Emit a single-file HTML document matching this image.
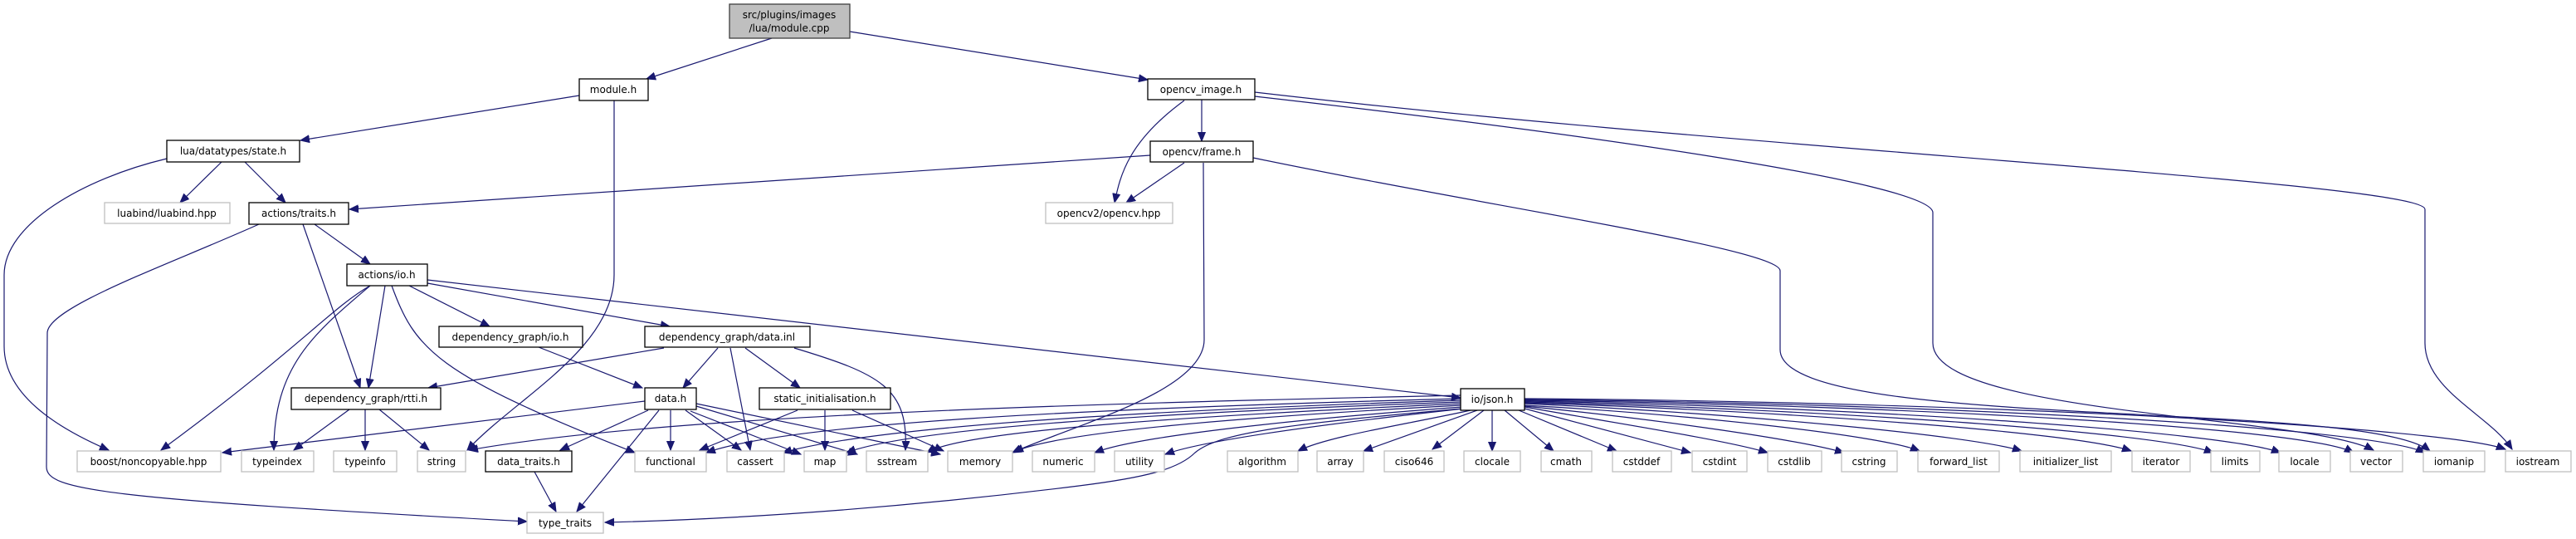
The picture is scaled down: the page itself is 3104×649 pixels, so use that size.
<!DOCTYPE html>
<html><head><meta charset="utf-8"><style>
html,body{margin:0;padding:0;background:#fff;}
svg{display:block;}
text{font-family:"DejaVu Sans","Liberation Sans",sans-serif;font-size:12px;fill:#000;text-anchor:middle;}
.e{fill:none;stroke:#191970;stroke-width:1.2;}
.n{fill:#fff;stroke:#000;stroke-width:1.3;}
.g{fill:#fff;stroke:#bfbfbf;stroke-width:1.3;}
</style></head><body>
<svg width="3104" height="649" viewBox="0 0 3104 649" xmlns="http://www.w3.org/2000/svg">
<defs><marker id="a" markerWidth="12" markerHeight="10" refX="11" refY="5" orient="auto" markerUnits="userSpaceOnUse"><path d="M0,0.5 L11,5 L0,9.5z" fill="#191970" stroke="#191970"/></marker></defs>
<g marker-end="url(#a)">
<!-- root -->
<path class="e" d="M930,46 L779,95"/>
<path class="e" d="M1024,38 L1383,96"/>
<!-- module.h -->
<path class="e" d="M698,115 L362,169"/>
<path class="e" d="M740,121 L740,331 C740,420 620,480 563,542"/>
<!-- opencv_image.h -->
<path class="e" d="M1448,120 L1448,170"/>
<path class="e" d="M1427,121 C1360,170 1350,210 1343,244"/>
<path class="e" d="M1512,116 C1900,160 2329,220 2329,256 L2329,413 C2329,500 2780,500 2860,542"/>
<path class="e" d="M1512,111 C2100,180 2922,220 2922,252 L2922,413 C2922,470 3000,500 3027,541"/>
<!-- frame.h -->
<path class="e" d="M1427,196 L1357,244"/>
<path class="e" d="M1386,187 L421,252"/>
<path class="e" d="M1450,196 L1451,409 C1451,470 1300,510 1222,544"/>
<path class="e" d="M1510,190 C1800,250 2145,300 2145,326 L2145,421 C2145,520 2850,480 2928,543"/>
<!-- state.h -->
<path class="e" d="M201,191 C100,215 5,270 5,331 L5,417 C5,480 80,520 131,542"/>
<path class="e" d="M267,195 L217,244"/>
<path class="e" d="M295,195 L344,244"/>
<!-- traits.h -->
<path class="e" d="M312,270 C200,320 57,370 57,401 L56,562 C56,590 120,600 635,628"/>
<path class="e" d="M379,270 L446,318"/>
<path class="e" d="M365,270 L434,467"/>
<!-- io.h -->
<path class="e" d="M446,344 C400,370 360,420 194,542"/>
<path class="e" d="M446,344 C380,400 330,440 330,542"/>
<path class="e" d="M464,344 L444,467"/>
<path class="e" d="M472,344 C500,420 523,450 765,545"/>
<path class="e" d="M493,344 L590,393"/>
<path class="e" d="M515,341 L807,393"/>
<path class="e" d="M515,337 L1760,479"/>
<!-- dg/io.h -->
<path class="e" d="M649,418 L774,467"/>
<!-- data.inl -->
<path class="e" d="M800,419 L516,467"/>
<path class="e" d="M865,419 L823,467"/>
<path class="e" d="M880,419 L904,542"/>
<path class="e" d="M898,419 L964,467"/>
<path class="e" d="M957,419 C1060,450 1095,467 1091,542"/>
<!-- rtti -->
<path class="e" d="M421,493 L354,542"/>
<path class="e" d="M440,493 L440,542"/>
<path class="e" d="M457,493 L517,542"/>
<!-- data.h -->
<path class="e" d="M777,483 L268,545"/>
<path class="e" d="M781,494 L675,542"/>
<path class="e" d="M794,494 L695,616"/>
<path class="e" d="M808,494 L808,542"/>
<path class="e" d="M826,494 L893,542"/>
<path class="e" d="M832,495 L965,547"/>
<path class="e" d="M839,489 L1033,547"/>
<path class="e" d="M839,486 L1133,547"/>
<!-- static init -->
<path class="e" d="M961,494 L843,542"/>
<path class="e" d="M994,494 L994,542"/>
<path class="e" d="M1027,494 L1137,543"/>
<!-- data_traits -->
<path class="e" d="M644,568 L670,616"/>
<!-- json left -->
<path class="e" d="M1760,476 C1300,486 800,500 565,542"/>
<path class="e" d="M1760,480 C1300,492 950,510 851,545"/>
<path class="e" d="M1760,482 C1350,495 1050,515 943,545"/>
<path class="e" d="M1760,484 C1400,497 1100,515 1020,545"/>
<path class="e" d="M1760,486 C1450,500 1160,518 1117,545"/>
<path class="e" d="M1760,488 C1500,502 1270,520 1220,545"/>
<path class="e" d="M1762,490 C1560,505 1370,525 1319,545"/>
<path class="e" d="M1764,492 C1600,510 1450,530 1404,547"/>
<path class="e" d="M1772,494 C1700,510 1600,525 1564,543"/>
<path class="e" d="M1780,494 L1643,543"/>
<path class="e" d="M1788,494 L1726,541"/>
<path class="e" d="M1762,492 C1560,510 1470,520 1440,545 C1420,565 1380,575 1300,585 C1100,610 900,625 729,629"/>
<!-- json right -->
<path class="e" d="M1798,494 L1798,543"/>
<path class="e" d="M1813,494 L1872,543"/>
<path class="e" d="M1830,494 L1948,543"/>
<path class="e" d="M1837,492 L2037,545"/>
<path class="e" d="M1837,490 C1950,510 2080,530 2130,545"/>
<path class="e" d="M1837,489 C2000,505 2170,530 2222,545"/>
<path class="e" d="M1837,488 C2050,500 2270,525 2313,543"/>
<path class="e" d="M1837,486 C2100,498 2380,525 2436,543"/>
<path class="e" d="M1837,485 C2150,495 2500,520 2568,543"/>
<path class="e" d="M1837,484 C2200,493 2600,520 2667,545"/>
<path class="e" d="M1837,483 C2250,490 2680,520 2748,545"/>
<path class="e" d="M1837,482 C2300,488 2780,515 2836,545"/>
<path class="e" d="M1837,481 C2350,486 2860,515 2922,545"/>
<path class="e" d="M1837,480 C2400,484 2950,515 3019,541"/>
</g>
<!-- nodes -->
<rect x="879" y="5" width="145" height="41" fill="#bfbfbf" stroke="#404040" stroke-width="1.3"/>
<text x="951" y="22">src/plugins/images</text><text x="951" y="38">/lua/module.cpp</text>
<rect class="n" x="698" y="95" width="83" height="26"/><text x="739" y="112">module.h</text>
<rect class="n" x="1383" y="95" width="129" height="25"/><text x="1447" y="112">opencv_image.h</text>
<rect class="n" x="201" y="169" width="160" height="26"/><text x="281" y="186">lua/datatypes/state.h</text>
<rect class="n" x="1386" y="170" width="124" height="25"/><text x="1448" y="187">opencv/frame.h</text>
<rect class="g" x="126" y="244" width="151" height="25"/><text x="201" y="261">luabind/luabind.hpp</text>
<rect class="n" x="300" y="244" width="120" height="26"/><text x="360" y="261">actions/traits.h</text>
<rect class="g" x="1260" y="244" width="153" height="25"/><text x="1336" y="261">opencv2/opencv.hpp</text>
<rect class="n" x="418" y="318" width="97" height="26"/><text x="466" y="335">actions/io.h</text>
<rect class="n" x="529" y="393" width="173" height="25"/><text x="615" y="410">dependency_graph/io.h</text>
<rect class="n" x="777" y="393" width="199" height="25"/><text x="876" y="410">dependency_graph/data.inl</text>
<rect class="n" x="351" y="467" width="180" height="26"/><text x="441" y="484">dependency_graph/rtti.h</text>
<rect class="n" x="777" y="467" width="62" height="26"/><text x="808" y="484">data.h</text>
<rect class="n" x="915" y="467" width="158" height="26"/><text x="994" y="484">static_initialisation.h</text>
<rect class="n" x="1760" y="468" width="77" height="26"/><text x="1798" y="485">io/json.h</text>
<rect class="g" x="93" y="543" width="173" height="25"/><text x="179" y="560">boost/noncopyable.hpp</text>
<rect class="g" x="291" y="543" width="87" height="25"/><text x="334" y="560">typeindex</text>
<rect class="g" x="402" y="543" width="76" height="25"/><text x="440" y="560">typeinfo</text>
<rect class="g" x="503" y="543" width="58" height="25"/><text x="532" y="560">string</text>
<rect class="n" x="585" y="543" width="104" height="25"/><text x="637" y="560">data_traits.h</text>
<rect class="g" x="765" y="543" width="86" height="25"/><text x="808" y="560">functional</text>
<rect class="g" x="876" y="543" width="69" height="25"/><text x="910" y="560">cassert</text>
<rect class="g" x="969" y="543" width="51" height="25"/><text x="994" y="560">map</text>
<rect class="g" x="1044" y="543" width="74" height="25"/><text x="1081" y="560">sstream</text>
<rect class="g" x="1142" y="543" width="78" height="25"/><text x="1181" y="560">memory</text>
<rect class="g" x="1244" y="543" width="75" height="25"/><text x="1281" y="560">numeric</text>
<rect class="g" x="1343" y="543" width="60" height="25"/><text x="1373" y="560">utility</text>
<rect class="g" x="1479" y="543" width="85" height="25"/><text x="1521" y="560">algorithm</text>
<rect class="g" x="1587" y="543" width="56" height="25"/><text x="1615" y="560">array</text>
<rect class="g" x="1668" y="543" width="72" height="25"/><text x="1704" y="560">ciso646</text>
<rect class="g" x="1764" y="543" width="68" height="25"/><text x="1798" y="560">clocale</text>
<rect class="g" x="1857" y="543" width="61" height="25"/><text x="1887" y="560">cmath</text>
<rect class="g" x="1943" y="543" width="71" height="25"/><text x="1978" y="560">cstddef</text>
<rect class="g" x="2039" y="543" width="66" height="25"/><text x="2072" y="560">cstdint</text>
<rect class="g" x="2130" y="543" width="65" height="25"/><text x="2162" y="560">cstdlib</text>
<rect class="g" x="2219" y="543" width="67" height="25"/><text x="2252" y="560">cstring</text>
<rect class="g" x="2311" y="543" width="98" height="25"/><text x="2360" y="560">forward_list</text>
<rect class="g" x="2434" y="543" width="110" height="25"/><text x="2489" y="560">initializer_list</text>
<rect class="g" x="2569" y="543" width="70" height="25"/><text x="2604" y="560">iterator</text>
<rect class="g" x="2664" y="543" width="59" height="25"/><text x="2693" y="560">limits</text>
<rect class="g" x="2746" y="543" width="62" height="25"/><text x="2777" y="560">locale</text>
<rect class="g" x="2832" y="543" width="63" height="25"/><text x="2863" y="560">vector</text>
<rect class="g" x="2920" y="543" width="74" height="25"/><text x="2957" y="560">iomanip</text>
<rect class="g" x="3019" y="543" width="79" height="25"/><text x="3058" y="560">iostream</text>
<rect class="g" x="635" y="617" width="92" height="25"/><text x="681" y="634">type_traits</text>
</svg>
</body></html>
